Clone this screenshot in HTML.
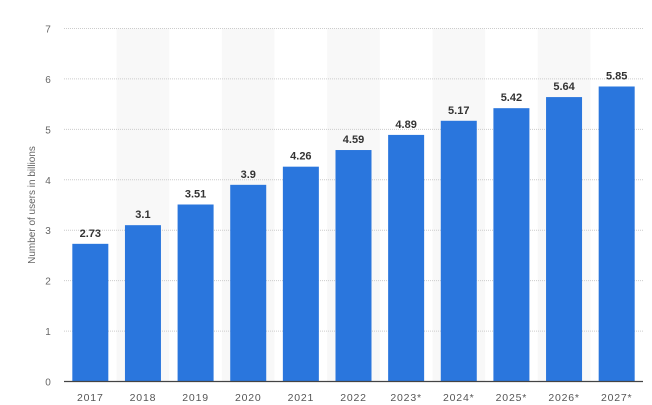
<!DOCTYPE html>
<html><head><meta charset="utf-8"><style>
html,body{margin:0;padding:0;background:#fff;width:652px;height:405px;overflow:hidden}
text{font-family:"Liberation Sans",sans-serif}
</style></head><body>
<svg id="chart" width="652" height="405" xmlns="http://www.w3.org/2000/svg">
<g id="bands"></g><g id="grid"></g><g id="bars"></g><g id="labels"></g><g id="xt"></g><g id="yt"></g>
<text transform="translate(35,205) rotate(-90)" text-anchor="middle" font-size="10" fill="#666">Number of users in billions</text>
<line x1="64" x2="643" y1="381.5" y2="381.5" stroke="#444" stroke-width="1.2"/>
</svg>
<script>
const categories=["2017","2018","2019","2020","2021","2022","2023*","2024*","2025*","2026*","2027*"];
const values=[2.73,3.1,3.51,3.9,4.26,4.59,4.89,5.17,5.42,5.64,5.85];
const valueLabels=["2.73","3.1","3.51","3.9","4.26","4.59","4.89","5.17","5.42","5.64","5.85"];
const yTicks=[0,1,2,3,4,5,6,7];
const NS="http://www.w3.org/2000/svg";
const L=64,R=643,T=28.5,B=381.5,YMAX=7;
const bw=(R-L)/categories.length;
const y=v=>B-(v/YMAX)*(B-T);
const x=i=>L+i*bw;
function mk(tag,attrs,parent){const e=document.createElementNS(NS,tag);for(const k in attrs)e.setAttribute(k,attrs[k]);document.getElementById(parent).appendChild(e);return e;}
categories.forEach((c,i)=>{
  if(i%2===1){const b=mk('rect',{x:x(i),y:T,width:bw,height:B-T,fill:'#f8f8f8'},'bands');
    
    }
});
yTicks.forEach(t=>{
  if(t>0){const g=mk('line',{x1:L,x2:R,y1:y(t),y2:y(t),stroke:'#ccc','stroke-dasharray':'1,1','stroke-width':1},'grid');
    
    }
  const tx=mk('text',{x:48,y:y(t)+4,'text-anchor':'middle','font-size':10,fill:'#666'},'yt');
  tx.textContent=t;
  
  
});
categories.forEach((c,i)=>{
  const cx=x(i)+bw/2;
  const r=mk('rect',{x:cx-18,y:y(values[i]),width:36,height:B-y(values[i]),fill:'#2a76dd'},'bars');
  
  
  const l=mk('text',{x:cx,y:y(values[i])-7,'text-anchor':'middle','font-size':11,'font-weight':'bold',fill:'#333'},'labels');
  l.textContent=valueLabels[i];
  
  
  const xl=mk('text',{x:cx,y:401,'text-anchor':'middle','font-size':10.5,fill:'#555','letter-spacing':'0.8'},'xt');
  xl.textContent=c;
  
  
});
</script>
</body></html>
